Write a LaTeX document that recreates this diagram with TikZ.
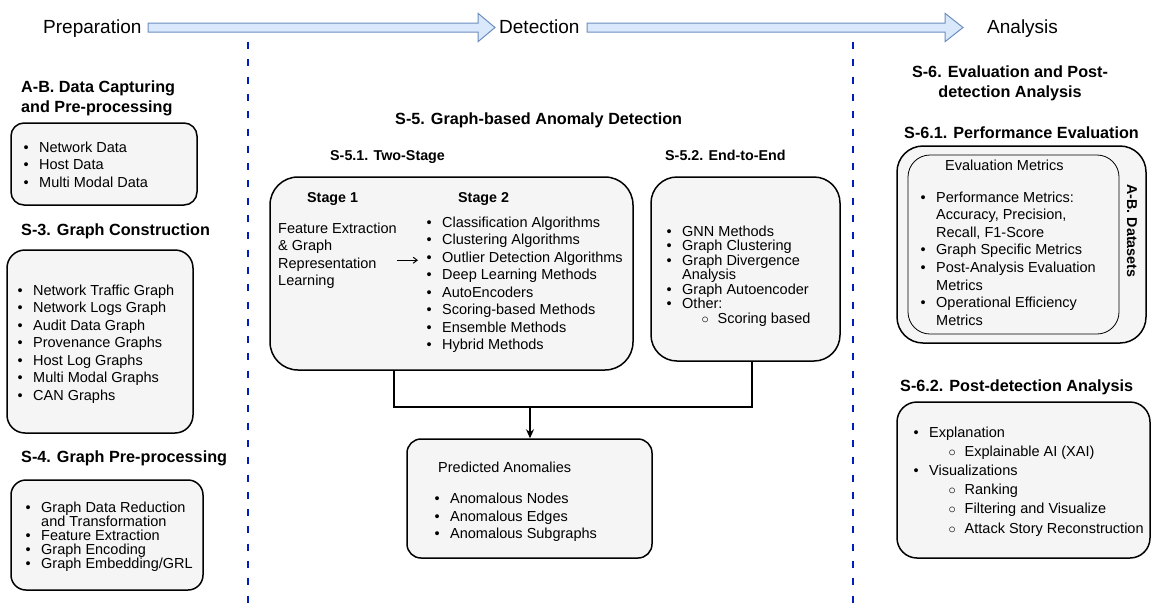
\documentclass[tikz,border=0pt]{standalone}
\usepackage{fontspec}
\setmainfont{Liberation Sans}
\usetikzlibrary{arrows.meta}

\definecolor{boxgray}{HTML}{F5F5F5}
\definecolor{flowfill}{HTML}{DAE8FC}
\definecolor{flowline}{HTML}{6C8EBF}
\definecolor{sepblue}{HTML}{001DBC}

\newcommand{\itm}{\makebox[15.5pt][l]{•}}
\newcommand{\cnt}{\hspace*{15.5pt}}
\newcommand{\subitm}{\hspace*{35pt}\makebox[16pt][l]{$\circ$}}

\begin{document}
\begin{tikzpicture}[x=1pt,y=-1pt,
    box/.style={draw,line width=1.5pt,rounded corners=#1,fill=boxgray,inner sep=0pt},
    box/.default=14pt,
    lst/.style={align=left,inner sep=0pt,anchor=north west,font=\fontsize{14.5}{17.5}\selectfont},
    hd/.style={inner sep=0pt,align=left,font=\fontsize{16.2}{20}\selectfont\bfseries},
    sub/.style={inner sep=0pt,font=\fontsize{14.3}{17}\selectfont\bfseries},
    phase/.style={inner sep=0pt,anchor=base west,font=\fontsize{19}{22}\selectfont},
    flow/.style={fill=flowfill,draw=flowline,line width=1pt},
    divider/.style={draw=sepblue,line width=2.8pt,dash pattern=on 7pt off 10.3pt},
    conn/.style={line width=1.4pt}]
        \useasboundingbox (0,0) rectangle (1153,606);

        % phases along the top
        \node[phase] (PRE) at (43,33.3) {Preparation};
        \node[phase] (DET) at (499,33.3) {Detection};
        \node[phase] (ANA) at (987,33.3) {Analysis};
        \draw[flow] (148,23) -- (478,23) -- (478,13.3) -- (495,27.5) -- (478,41.7) -- (478,32) -- (148,32) -- cycle;
        \draw[flow] (587,23) -- (945,23) -- (945,13.3) -- (963,27.5) -- (945,41.7) -- (945,32) -- (587,32) -- cycle;

        \draw[divider] (248,42) -- (248,606);
        \draw[divider] (853,42) -- (853,606);

        % preparation column
        \node[hd,anchor=north west] (CAPH) at (21,80.4) {A-B. Data Capturing\\and Pre-processing};
        \node[box,minimum width=186,minimum height=82,rounded corners=13pt] (CAP) at (104,164) {};
        \node[lst] (CAPL) at (23.5,141.3) {\itm Network Data\\\itm Host Data\\\itm Multi Modal Data};

        \node[hd,anchor=base west] (CONH) at (21,235) {S-3. Graph Construction};
        \node[box,minimum width=186,minimum height=183,rounded corners=18pt] (CON) at (100,341.5) {};
        \node[lst] (CONL) at (17.5,284.6) {\itm Network Traffic Graph\\\itm Network Logs Graph\\\itm Audit Data Graph\\\itm Provenance Graphs\\\itm Host Log Graphs\\\itm Multi Modal Graphs\\\itm CAN Graphs};

        \node[hd,anchor=base west] (GPPH) at (21,462) {S-4. Graph Pre-processing};
        \node[box,minimum width=192,minimum height=110,rounded corners=15pt] (GPP) at (107,535) {};
        \node[lst,font=\fontsize{14.5}{14.1}\selectfont] (GPPL) at (25.5,501.3) {\itm Graph Data Reduction\\\cnt and Transformation\\\itm Feature Extraction\\\itm Graph Encoding\\\itm Graph Embedding/GRL};

        % detection column
        \node[hd,anchor=base west] (GADH) at (395,124) {S-5. Graph-based Anomaly Detection};
        \node[sub,anchor=base west] (TWOH) at (330,160) {S-5.1. Two-Stage};
        \node[sub,anchor=base west] (E2EH) at (665,160) {S-5.2. End-to-End};

        \node[box,minimum width=363,minimum height=193,rounded corners=28pt] (TWO) at (451.5,273.5) {};
        \node[sub,anchor=base west] (ST1) at (307,202.7) {Stage 1};
        \node[sub,anchor=base west] (ST2) at (458,202.7) {Stage 2};
        \node[lst] (FEAT) at (278,222.6) {Feature Extraction\\\& Graph\\Representation\\Learning};
        \node[lst] (ALGL) at (426.5,216.3) {\itm Classification Algorithms\\\itm Clustering Algorithms\\\itm Outlier Detection Algorithms\\\itm Deep Learning Methods\\\itm AutoEncoders\\\itm Scoring-based Methods\\\itm Ensemble Methods\\\itm Hybrid Methods};
        \coordinate (ARR) at ([yshift=-4.4pt]FEAT.east);
        \draw[-{Straight Barb[length=4pt,width=6pt]},line width=1pt,shorten >=8.5pt] (ARR) -- (ARR -| ALGL.west);

        \node[box,minimum width=189,minimum height=184,rounded corners=26pt] (E2E) at (745.5,269) {};
        \node[lst,font=\fontsize{14.5}{14.5}\selectfont] (E2EL) at (666.5,225.6) {\itm GNN Methods\\\itm Graph Clustering\\\itm Graph Divergence\\\cnt Analysis\\\itm Graph Autoencoder\\\itm Other:\\\subitm Scoring based};

        \node[box,minimum width=245,minimum height=119] (PRED) at (529.5,498.5) {};
        \node[lst] (PREDL) at (434.5,461.3) {\hspace*{3.5pt}Predicted Anomalies\\[14.1pt]\itm Anomalous Nodes\\\itm Anomalous Edges\\\itm Anomalous Subgraphs};

        \coordinate (MERGE) at (530,407);
        \draw[conn] ([xshift=-57.5pt]TWO.south) |- (MERGE) -| ([xshift=6.5pt]E2E.south);
        \draw[conn,-{Stealth[length=9pt,width=8pt]}] (MERGE) -- (PRED.north -| MERGE);

        % analysis column
        \node[hd,anchor=north,align=center] (EVH) at (1010,65.7) {S-6. Evaluation and Post-\\detection Analysis};
        \node[hd,anchor=base west] (PERFH) at (904,138) {S-6.1. Performance Evaluation};
        \node[box,minimum width=249,minimum height=197,rounded corners=26pt] (PERF) at (1021.5,244.5) {};
        \node[box,minimum width=211,minimum height=179,rounded corners=22pt,line width=0.8pt] (EVAL) at (1013.5,244.5) {};
        \node[lst,anchor=base west] (EVALH) at (945,170.7) {Evaluation Metrics};
        \node[lst,font=\fontsize{14.5}{17.6}\selectfont] (EVALL) at (920.5,191.3) {\itm Performance Metrics:\\\cnt Accuracy, Precision,\\\cnt Recall, F1-Score\\\itm Graph Specific Metrics\\\itm Post-Analysis Evaluation\\\cnt Metrics\\\itm Operational Efficiency\\\cnt Metrics};
        \node[sub,rotate=-90] (DATA) at (1132,231) {A-B. Datasets};

        \node[hd,anchor=base west] (POSTH) at (900,391) {S-6.2. Post-detection Analysis};
        \node[box,minimum width=253,minimum height=156,rounded corners=20pt] (POST) at (1023.5,480) {};
        \node[lst,font=\fontsize{14.5}{19.2}\selectfont] (POSTL) at (913.5,426.3) {\itm Explanation\\\subitm Explainable AI (XAI)\\\itm Visualizations\\\subitm Ranking\\\subitm Filtering and Visualize\\\subitm Attack Story Reconstruction};
    \end{tikzpicture}
\end{document}
